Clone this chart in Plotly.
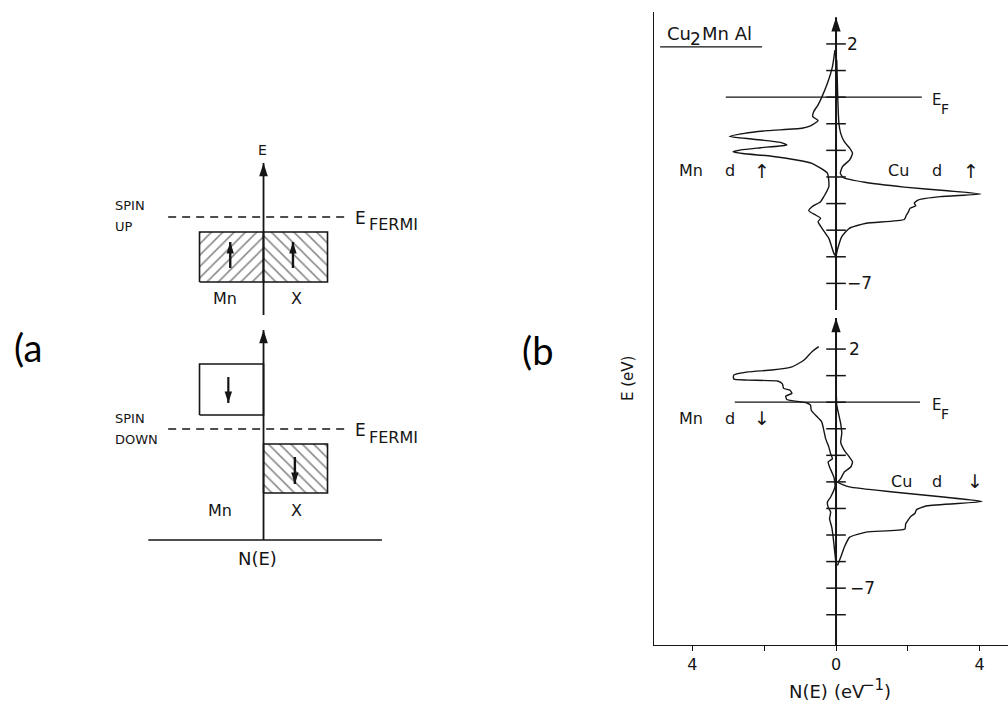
import plotly.graph_objects as go

INK = "#151515"
LAB = "DejaVu Sans, Liberation Sans, sans-serif"

# ---------------- panel (a): schematic band picture (arbitrary units) ----------------
a_axis_up = [4.50, 7.54]        # E axis, spin-up half (bottom, arrow tip)
a_axis_dn = [0.0, 4.20]         # E axis, spin-down half
a_ef_up, a_ef_dn = 6.46, 2.22   # Fermi levels
a_ef_span = [-1.49, 1.31]
a_up_band = [5.16, 6.16]        # occupied spin-up d band (Mn and X)
a_dn_mn_band = [2.50, 3.52]     # empty spin-down Mn band
a_dn_x_band = [0.94, 1.92]      # occupied spin-down X band
a_band_w = 1.0
a_base_span = [-1.80, 1.85]

# ---------------- panel (b): Cu2MnAl d partial DOS ----------------
# energy (eV, relative to E_F) and N(E) (eV^-1); Mn drawn to the left of the axis
mn_up_E = [1.77, 1.15, 0.52, 0.02, -0.29, -0.54, -0.73, -0.88, -1.08, -1.17, -1.26,
           -1.36, -1.48, -1.58, -1.70, -1.80, -1.90, -1.98, -2.05, -2.12, -2.22, -2.36,
           -2.49, -2.86, -3.36, -3.74, -3.93, -4.12, -4.27, -4.43, -4.55, -4.68, -4.93,
           -5.31, -5.87, -5.99]
mn_up_N = [0.03, 0.10, 0.24, 0.39, 0.50, 0.62, 0.65, 0.50, 0.71, 0.95, 1.90,
           2.55, 2.97, 2.30, 1.55, 1.37, 2.10, 2.65, 2.87, 2.60, 1.80, 1.10,
           0.67, 0.24, 0.20, 0.34, 0.43, 0.67, 0.76, 0.57, 0.43, 0.50, 0.39,
           0.20, 0.06, 0.0]

cu_up_E = [1.40, -0.11, -0.98, -1.36, -1.67, -1.92, -2.11, -2.36, -2.61, -2.86, -3.02,
           -3.20, -3.38, -3.52, -3.64, -3.74, -3.86, -3.98, -4.08, -4.18, -4.30, -4.43,
           -4.60, -4.74, -4.93, -5.24, -5.68, -5.97]
cu_up_N = [0.02, 0.05, 0.08, 0.13, 0.23, 0.38, 0.46, 0.38, 0.18, 0.12, 0.20,
           0.80, 1.90, 3.10, 4.03, 2.90, 2.30, 2.18, 2.22, 2.06, 2.02, 1.96,
           1.90, 0.84, 0.37, 0.16, 0.05, 0.0]

mn_dn_E = [2.09, 1.90, 1.58, 1.33, 1.21, 1.14, 1.02, 0.87, 0.83, 0.79, 0.68, 0.52,
           0.45, 0.33, 0.23, 0.10, 0.05, -0.03, -0.11, -0.30, -0.49, -0.74, -1.06,
           -1.37, -1.69, -1.94, -2.13, -2.25, -2.44, -2.82, -3.19, -3.57, -3.76,
           -3.95, -4.14, -4.39, -4.70, -5.08, -5.58, -6.09]
mn_dn_N = [0.48, 0.67, 0.90, 1.23, 1.79, 2.45, 2.85, 2.85, 2.45, 1.61, 1.49, 1.46,
           1.28, 1.23, 1.40, 1.37, 1.18, 0.81, 0.71, 0.69, 0.57, 0.40, 0.34,
           0.29, 0.20, 0.15, 0.10, 0.22, 0.18, 0.06, 0.03, 0.15, 0.24,
           0.22, 0.15, 0.18, 0.12, 0.08, 0.04, 0.0]

cu_dn_E = [0.20, -0.11, -0.43, -0.81, -1.18, -1.50, -1.81, -2.06, -2.25, -2.44, -2.63,
           -2.88, -3.01, -3.19, -3.38, -3.57, -3.74, -3.90, -4.05, -4.18, -4.30, -4.43,
           -4.58, -4.77, -4.89, -5.08, -5.46, -5.84, -6.15]
cu_dn_N = [0.01, 0.02, 0.07, 0.13, 0.16, 0.13, 0.23, 0.37, 0.46, 0.41, 0.23,
           0.13, 0.05, 0.37, 1.59, 2.99, 4.07, 2.53, 2.24, 2.20, 2.08, 2.01,
           1.94, 1.92, 0.84, 0.38, 0.23, 0.13, 0.04]

ef_up_span = [-3.07, 2.39]
ef_dn_span = [-2.82, 2.34]
axis_up_span = [-8.0, 3.0]
axis_dn_span = [-9.14, 3.17]
ticks_up = [2, 1, 0, -1, -2, -3, -4, -5, -6, -7]
ticks_dn = [2, 1, 0, -1, -2, -3, -4, -5, -6, -7, -8]
x_tickvals = [-4, -2, 0, 2, 4]
x_ticktext = ["4", "", "0", "", "4"]

fig = go.Figure()


def line(xs, ys, xa, ya, width=1.4, dash=None, shape="linear"):
    fig.add_trace(go.Scatter(x=xs, y=ys, xaxis=xa, yaxis=ya, mode="lines",
                             line=dict(color=INK, width=width, dash=dash, shape=shape,
                                       smoothing=0.5),
                             hoverinfo="skip", showlegend=False))


def box(x0, x1, y0, y1, pattern=None):
    kw = {}
    if pattern:
        kw = dict(fill="toself", fillcolor="rgba(0,0,0,0)",
                  fillpattern=dict(shape=pattern, size=8, solidity=0.2,
                                   fgcolor=INK, bgcolor="white"))
    fig.add_trace(go.Scatter(x=[x0, x1, x1, x0, x0], y=[y0, y0, y1, y1, y0],
                             xaxis="x", yaxis="y", mode="lines",
                             line=dict(color=INK, width=1.6),
                             hoverinfo="skip", showlegend=False, **kw))


def arrow(x, y0, y1, xa, ya, width=2.0, head=14):
    """Shaft from y0 to y1 with a filled head whose tip sits at y1."""
    line([x, x], [y0, y1], xa, ya, width)
    fig.add_trace(go.Scatter(x=[x], y=[y1], xaxis=xa, yaxis=ya, mode="markers",
                             marker=dict(symbol="arrow", size=head, color=INK,
                                         angle=0 if y1 > y0 else 180,
                                         line=dict(width=0)),
                             hoverinfo="skip", showlegend=False))


def label(x, y, text, xr, yr, size=15, xanchor="center", yanchor="middle", **kw):
    fig.add_annotation(x=x, y=y, xref=xr, yref=yr, text=text, showarrow=False,
                       xanchor=xanchor, yanchor=yanchor,
                       font=dict(family=LAB, size=size, color=INK), **kw)


# ---- panel (a) ----
box(-a_band_w, 0, a_up_band[0], a_up_band[1], "/")
box(0, a_band_w, a_up_band[0], a_up_band[1], "\\")
box(-a_band_w, 0, a_dn_mn_band[0], a_dn_mn_band[1])
box(0, a_band_w, a_dn_x_band[0], a_dn_x_band[1], "\\")
line(a_ef_span, [a_ef_up, a_ef_up], "x", "y", 1.3, "8px,6px")
line(a_ef_span, [a_ef_dn, a_ef_dn], "x", "y", 1.3, "8px,6px")
line(a_base_span, [0, 0], "x", "y", 1.4)
arrow(0, a_axis_up[0], a_axis_up[1], "x", "y", 1.8, 14)
arrow(0, a_axis_dn[0], a_axis_dn[1], "x", "y", 1.8, 14)
# spin arrows inside the bands
arrow(-0.52, 5.44, 5.96, "x", "y", 2.4, 12)
arrow(0.46, 5.44, 5.96, "x", "y", 2.4, 12)
arrow(-0.55, 3.26, 2.74, "x", "y", 2.2, 12)
arrow(0.49, 1.66, 1.12, "x", "y", 2.4, 12)

label(-0.02, 7.80, "E", "x", "y", 14)
label(-2.35, 6.68, "SPIN", "x", "y", 13, xanchor="left")
label(-2.35, 6.26, "UP", "x", "y", 13, xanchor="left")
label(-2.35, 2.44, "SPIN", "x", "y", 13, xanchor="left")
label(-2.35, 2.02, "DOWN", "x", "y", 13, xanchor="left")
for ef in (a_ef_up, a_ef_dn):
    label(1.40, ef - 0.02, "E", "x", "y", 17, xanchor="left")
    label(1.62, ef - 0.16, "FERMI", "x", "y", 16, xanchor="left")
label(-0.60, 4.84, "Mn", "x", "y", 16)
label(0.52, 4.84, "X", "x", "y", 16)
label(-0.68, 0.60, "Mn", "x", "y", 16)
label(0.52, 0.60, "X", "x", "y", 16)
label(-0.10, -0.36, "N(E)", "x", "y", 18)

# ---- panel (b) ----
line([-v for v in mn_up_N], mn_up_E, "x2", "y3", 1.4, shape="spline")
line(cu_up_N, cu_up_E, "x2", "y3", 1.4, shape="spline")
line([-v for v in mn_dn_N], mn_dn_E, "x2", "y2", 1.4, shape="spline")
line(cu_dn_N, cu_dn_E, "x2", "y2", 1.4, shape="spline")
line(ef_up_span, [0, 0], "x2", "y3", 1.2)
line(ef_dn_span, [0, 0], "x2", "y2", 1.2)
arrow(0, axis_up_span[0], axis_up_span[1], "x2", "y3", 2.0, 15)
arrow(0, axis_dn_span[0], axis_dn_span[1], "x2", "y2", 2.0, 15)
for ticks, ya in ((ticks_up, "y3"), (ticks_dn, "y2")):
    fig.add_trace(go.Scatter(x=[0] * len(ticks), y=ticks, xaxis="x2", yaxis=ya,
                             mode="markers",
                             marker=dict(symbol="line-ew", size=14,
                                         line=dict(color=INK, width=1.5)),
                             hoverinfo="skip", showlegend=False))

label(0.24, 2, "2", "x2", "y3", 17, xanchor="left")
label(0.26, -7, "\u22127", "x2", "y3", 17, xanchor="left")
label(0.30, 2, "2", "x2", "y2", 17, xanchor="left")
label(0.34, -7, "\u22127", "x2", "y2", 17, xanchor="left")
for ya in ("y3", "y2"):
    label(2.62, -0.12, "E", "x2", ya, 15, xanchor="left")
    label(2.88, -0.45, "F", "x2", ya, 14, xanchor="left")

# orbital / spin labels: (text, N position, E position, axis)
dos_labels = [
    ("Mn", -4.04, -2.77, "y3"), ("d", -2.95, -2.77, "y3"), ("\u2191", -2.06, -2.77, "y3"),
    ("Cu", 1.75, -2.77, "y3"), ("d", 2.81, -2.77, "y3"), ("\u2191", 3.76, -2.77, "y3"),
    ("Mn", -4.04, -0.60, "y2"), ("d", -2.95, -0.60, "y2"), ("\u2193", -2.06, -0.60, "y2"),
    ("Cu", 1.81, -2.97, "y2"), ("d", 2.81, -2.97, "y2"), ("\u2193", 3.87, -2.97, "y2"),
]
for txt, nx, ey, ya in dos_labels:
    is_arrow = txt in ("\u2191", "\u2193")
    label(nx, ey, txt, "x2", ya, 19 if is_arrow else 16)

# compound name, underlined
label(-4.76, 2.38, "Cu", "x2", "y3", 18, xanchor="left")
label(-4.12, 2.18, "2", "x2", "y3", 17, xanchor="left")
label(-3.80, 2.38, "Mn\u00a0Al", "x2", "y3", 18, xanchor="left")
line([-4.90, -2.06], [1.89, 1.89], "x2", "y3", 1.3)

# axis titles and panel letters
label(628 / 1008, 1 - 379 / 706, "E (eV)", "paper", "paper", 15, textangle=-90)
for txt, px, py, fs in (("N(E)", 808, 691, 18), ("(eV", 849, 691, 18),
                        ("\u22121", 873, 685, 15), (")", 887, 691, 18)):
    label(px / 1008, 1 - py / 706, txt, "paper", "paper", fs)
fig.add_annotation(x=12 / 1008, y=1 - 347 / 706, xref="paper", yref="paper", text="(a",
                   showarrow=False, xanchor="left",
                   font=dict(family="Lato, Open Sans, sans-serif", size=38, color="black"))
fig.add_annotation(x=537 / 1008, y=1 - 350 / 706, xref="paper", yref="paper", text="(b",
                   showarrow=False,
                   font=dict(family="Lato, Open Sans, sans-serif", size=38, color="black"))

hidden = dict(visible=False, showgrid=False, zeroline=False)
fig.update_layout(
    width=1008, height=706,
    margin=dict(l=0, r=0, t=0, b=0),
    paper_bgcolor="white", plot_bgcolor="rgba(0,0,0,0)",
    showlegend=False,
    xaxis=dict(domain=[100 / 1008, 420 / 1008], range=[-2.555, 2.445], anchor="y", **hidden),
    yaxis=dict(domain=[1 - 600 / 706, 1 - 140 / 706], range=[-1.2, 8.0], anchor="x", **hidden),
    xaxis2=dict(domain=[654 / 1008, 1.0], range=[-5.07, 4.79], anchor="y2",
                showline=True, linecolor=INK, linewidth=1.4, showgrid=False, zeroline=False,
                ticks="outside", ticklen=5, tickwidth=1.4, tickcolor=INK,
                tickvals=x_tickvals, ticktext=x_ticktext,
                tickfont=dict(family=LAB, size=16, color=INK)),
    xaxis3=dict(domain=[654 / 1008, 1.0], range=[-5.07, 4.79], anchor="y3", overlaying="x2",
                side="top", showline=True, linecolor=INK, linewidth=1.4, showgrid=False,
                zeroline=False, ticks="", showticklabels=False),
    yaxis2=dict(domain=[1 - 645 / 706, 1 - 314 / 706], range=[-9.14, 3.32], anchor="x2",
                showline=True, linecolor=INK, linewidth=1.4, showgrid=False, zeroline=False,
                ticks="", showticklabels=False),
    yaxis3=dict(domain=[1 - 314 / 706, 1 - 12 / 706], range=[-8.15, 3.20], anchor="x2",
                showline=True, linecolor=INK, linewidth=1.4, showgrid=False, zeroline=False,
                ticks="", showticklabels=False),
)

fig.write_html("out.html")
